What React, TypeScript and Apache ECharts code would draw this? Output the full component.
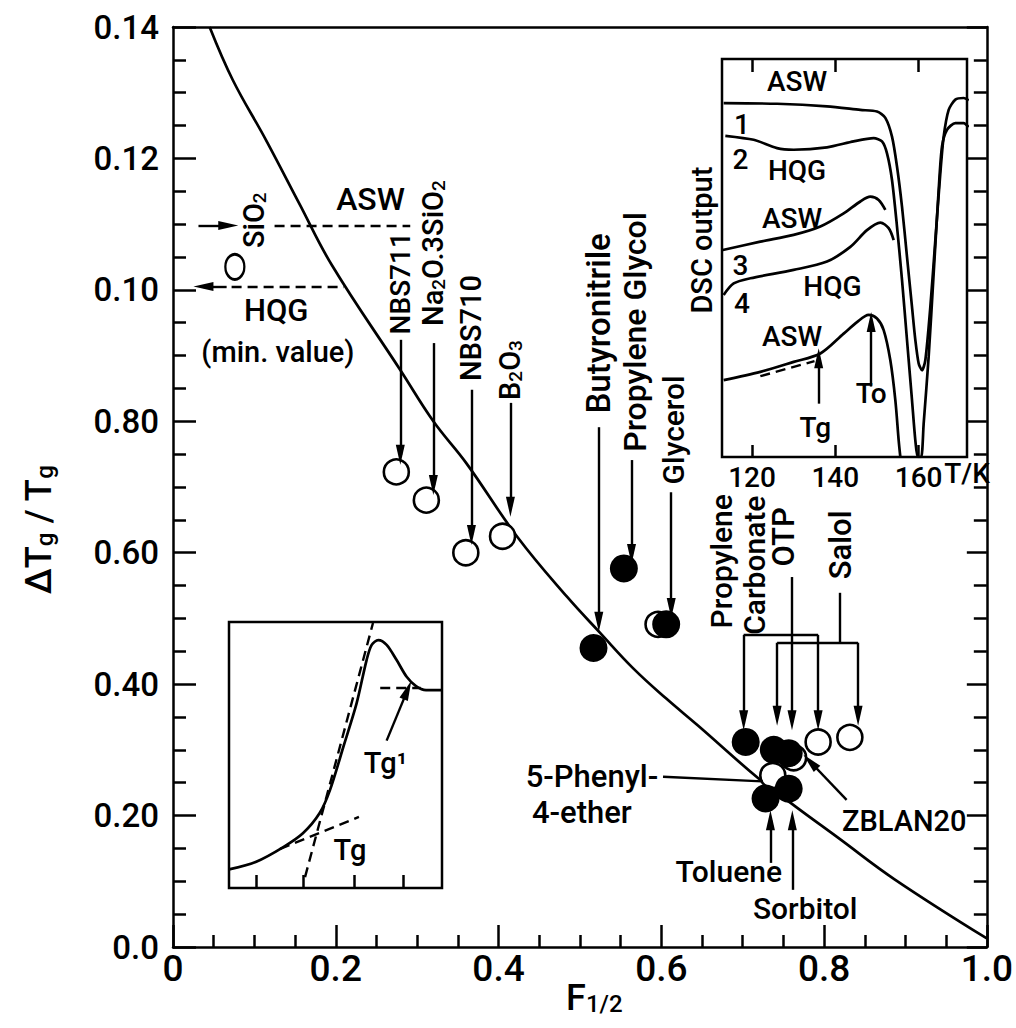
import React, { useEffect, useRef } from "react";
import * as echarts from "echarts";

const FONT = "Roboto, 'DejaVu Sans', sans-serif";
const WEIGHT = 500;

// ---- main axes tick labels (as printed in the original figure) ----
const xTickText = ["0", "0.2", "0.4", "0.6", "0.8", "1.0"];
const yTickText = ["0.0", "0.20", "0.40", "0.60", "0.80", "0.10", "0.12", "0.14"];

// ---- main curve  (F1/2, ΔTg/Tg) ----
const mainCurve: number[][] = [
  [0.045, 0.14], [0.0736, 0.1319], [0.1143, 0.1228], [0.1549, 0.1132], [0.1955, 0.1037],
  [0.2793, 0.0878], [0.3199, 0.08], [0.3606, 0.0736], [0.4232, 0.0624], [0.4841, 0.0533],
  [0.5248, 0.0478], [0.5655, 0.0424], [0.6061, 0.0378], [0.645, 0.0337], [0.7199, 0.0256],
  [0.7646, 0.0214], [0.8175, 0.0166], [0.8866, 0.0103], [1.0, 0.0013],
];

// open symbols
const openPoints: number[][] = [
  [0.2744, 0.0723], // NBS711
  [0.3113, 0.068], // Na2O.3SiO2
  [0.3598, 0.06], // NBS710
  [0.4049, 0.0625], // B2O3
  [0.596, 0.0491], // Glycerol (open)
  [0.7927, 0.0312], // Propylene carbonate (open)
  [0.8317, 0.0319], // Salol (open)
  [0.7626, 0.0288], // ZBLAN20
  [0.737, 0.0261], // 5-Phenyl-4-ether
];
const sio2Point: number[][] = [[0.076, 0.1035]];

// filled symbols
const filledPoints: number[][] = [
  [0.554, 0.0576], // Propylene glycol
  [0.606, 0.0491], // Glycerol
  [0.5167, 0.0455], // Butyronitrile
  [0.7037, 0.0312], // Propylene carbonate
  [0.7382, 0.03], // Salol
  [0.7565, 0.0295], // OTP
  [0.7281, 0.0226], // Toluene
  [0.7565, 0.0241], // Sorbitol
];

// ---- DSC inset (T/K, relative output) ----
const dscTicks = [120, 140, 160];
const dscASW1: number[][] = [
  [113.2, 88.9], [126, 88.75], [138, 88.1], [146, 87.2], [150, 86.8], [152, 85.2], [153.6, 80.5],
  [154.8, 73], [156, 62.9], [157.2, 50.3], [158.4, 37.7], [159.2, 29.4], [160, 23.5], [160.8, 21.8],
  [161.6, 24.3], [162.8, 37.7], [164, 54.5], [165.2, 71.3], [166, 80.5], [167.2, 87.2], [168.8, 89.8],
  [170.8, 90.2], [172, 89.6],
];
const dscHQG2: number[][] = [
  [113.6, 80.7], [120.4, 79.7], [126, 77.6], [130, 77.2], [138, 77.8], [144.4, 79.3], [149.2, 80.1],
  [151.2, 79.3], [152.4, 76.3], [153.6, 69.6], [154.8, 57.9], [156, 44.5], [157.2, 29.4], [158.4, 14.3],
  [159.2, 4.2], [159.8, 0], [160.6, 0], [161.2, 8.4], [162.4, 25.2], [163.6, 46.1], [164.8, 67.1],
  [165.6, 78], [166.8, 82.2], [168.8, 83.9], [170.8, 83.9], [172, 82.9],
];
const dscASW3: number[][] = [
  [113, 52], [122, 54.1], [130, 55.8], [136.4, 57.9], [142, 61.2], [146, 64.2], [148.4, 65.4],
  [150.4, 64.6], [152, 62.1],
];
const dscHQG4: number[][] = [
  [113.2, 40.7], [115.6, 43.6], [119.6, 44.9], [130, 47], [138, 49.1], [143.6, 52.8], [147.6, 57],
  [150.8, 58.9], [152.8, 57.5], [154, 54.5],
];
const dscASW5: number[][] = [
  [113.2, 19.3], [122, 21.4], [130, 23.9], [136.4, 26], [142, 31], [145.2, 33.9], [148, 35.7],
  [150, 34.8], [151.6, 31.9], [153.2, 24.3], [154.4, 14.3], [155.2, 4.2], [155.6, 0],
];

// ---- lower-left schematic inset ----
const insetTicks = [13, 35, 59, 82];
const insetCurve: number[][] = [
  [0, 7], [12.8, 9.9], [25.3, 15.3], [34.7, 20.6], [42.5, 28.1], [47.4, 36.8], [53.7, 53.1],
  [59.9, 69.4], [64.6, 85.7], [67, 91.4], [70.1, 93.2], [74, 91.4], [78.7, 85.7], [83.4, 79.4],
  [87.8, 75.9], [92.5, 74.4], [100, 74.4],
];

// ---- annotation lines [x1, y1, x2, y2] in data units ----
const mainArrows: number[][] = [
  [0.0313, 0.1098, 0.0679, 0.1098],
  [0.0659, 0.1005, 0.0374, 0.1005],
  [0.2793, 0.0924, 0.2793, 0.0749],
  [0.3199, 0.0919, 0.3199, 0.0703],
  [0.3667, 0.0848, 0.3667, 0.0627],
  [0.4146, 0.0828, 0.4146, 0.067],
  [0.5232, 0.0791, 0.5232, 0.0495],
  [0.5634, 0.0741, 0.5634, 0.0598],
  [0.6122, 0.0692, 0.6122, 0.0516],
  [0.7012, 0.0475, 0.7012, 0.0345],
  [0.7927, 0.0475, 0.7927, 0.0345],
  [0.7423, 0.0463, 0.7423, 0.0352],
  [0.8418, 0.0463, 0.8418, 0.0352],
  [0.7606, 0.0563, 0.7606, 0.0345],
  [0.8277, 0.0224, 0.7829, 0.0282],
  [0.7341, 0.0128, 0.7341, 0.0193],
  [0.761, 0.0087, 0.761, 0.0193],
];
const mainPlain: number[][] = [
  [0.7012, 0.0475, 0.7927, 0.0475],
  [0.7423, 0.0463, 0.8418, 0.0463],
  [0.8195, 0.0539, 0.8195, 0.0463],
  [0.6021, 0.0259, 0.7241, 0.0252],
];
const mainDashed: number[][] = [
  [0.1248, 0.1097, 0.2915, 0.1097],
  [0.072, 0.1005, 0.2101, 0.1005],
];
const dscArrows: number[][] = [
  [136, 13.4, 136, 24.8],
  [148.6, 17.7, 148.6, 33.9],
];
const dscDashed: number[][] = [[122, 20.3, 135, 24.1]];
const insetArrows: number[][] = [[74, 55.4, 83.8, 74.4]];
const insetDashed: number[][] = [
  [24, 14.7, 61, 26.7],
  [35.7, 4.1, 67.6, 99.6],
  [71, 75.2, 90, 75.2],
];

// ---- texts: grid, text, x, y, size, rotated, align ----
type Lab = { g: number; t: string; x: number; y: number; s: number; r?: boolean; a?: string };
const labels: Lab[] = [
  { g: 0, t: "ASW", x: 0.2427, y: 0.1139, s: 32 },
  { g: 0, t: "HQG", x: 0.1268, y: 0.0969, s: 31 },
  { g: 0, t: "(min. value)", x: 0.1289, y: 0.0906, s: 29 },
  { g: 0, t: "SiO{s|2}", x: 0.0996, y: 0.1106, s: 29, r: true },
  { g: 0, t: "NBS711", x: 0.2793, y: 0.101, s: 28, r: true },
  { g: 0, t: "Na{s|2}O.3SiO{s|2}", x: 0.3199, y: 0.1056, s: 29, r: true },
  { g: 0, t: "NBS710", x: 0.3667, y: 0.0942, s: 29, r: true },
  { g: 0, t: "B{s|2}O{s|3}", x: 0.4146, y: 0.0878, s: 29, r: true },
  { g: 0, t: "Butyronitrile", x: 0.5228, y: 0.0949, s: 33, r: true },
  { g: 0, t: "Propylene Glycol", x: 0.5671, y: 0.0936, s: 32, r: true },
  { g: 0, t: "Glycerol", x: 0.6146, y: 0.0787, s: 30, r: true },
  { g: 0, t: "Propylene", x: 0.6744, y: 0.0587, s: 30, r: true },
  { g: 0, t: "Carbonate", x: 0.7146, y: 0.0581, s: 30, r: true },
  { g: 0, t: "OTP", x: 0.75, y: 0.0624, s: 31, r: true },
  { g: 0, t: "Salol", x: 0.8207, y: 0.0612, s: 31, r: true },
  { g: 0, t: "5-Phenyl-", x: 0.5963, y: 0.0259, s: 31, a: "right" },
  { g: 0, t: "4-ether", x: 0.5024, y: 0.0205, s: 31 },
  { g: 0, t: "ZBLAN20", x: 0.822, y: 0.0191, s: 29, a: "left" },
  { g: 0, t: "Toluene", x: 0.6829, y: 0.0115, s: 30 },
  { g: 0, t: "Sorbitol", x: 0.7768, y: 0.0059, s: 30 },
  { g: 0, t: "ΔT{s|g} / T{s|g}", x: -0.1646, y: 0.0635, s: 36, r: true },
  { g: 0, t: "F{s|1/2}", x: 0.483, y: -0.0078, s: 36, a: "left" },
  { g: 1, t: "ASW", x: 130.8, y: 94.4, s: 28 },
  { g: 1, t: "1", x: 117.6, y: 83.5, s: 28 },
  { g: 1, t: "2", x: 117.2, y: 74.7, s: 28 },
  { g: 1, t: "HQG", x: 130.8, y: 72.1, s: 28 },
  { g: 1, t: "ASW", x: 129.6, y: 60.0, s: 28 },
  { g: 1, t: "3", x: 117.2, y: 48.2, s: 28 },
  { g: 1, t: "HQG", x: 139.3, y: 42.8, s: 28 },
  { g: 1, t: "4", x: 117.6, y: 38.6, s: 28 },
  { g: 1, t: "ASW", x: 129.6, y: 30.2, s: 28 },
  { g: 1, t: "Tg", x: 135.2, y: 7.5, s: 28 },
  { g: 1, t: "To", x: 148.6, y: 16, s: 28 },
  { g: 1, t: "T/K", x: 171.6, y: -4.1, s: 28 },
  { g: 1, t: "DSC output", x: 108.1, y: 54.5, s: 29, r: true },
  { g: 2, t: "Tg", x: 56.8, y: 14.3, s: 29 },
  { g: 2, t: "Tg¹", x: 73.5, y: 47, s: 29 },
];

function seg(l: number[], kind: "arrow" | "plain" | "dash") {
  const ls = { color: "#000", width: 2.4, type: kind === "dash" ? [10, 6] : "solid", opacity: 1 };
  return [
    { coord: [l[0], l[1]], symbol: "none", lineStyle: ls },
    {
      coord: [l[2], l[3]],
      symbol: kind === "arrow" ? "triangle" : "none",
      symbolSize: [9, 20],
      lineStyle: ls,
      itemStyle: { color: "#000", opacity: 1 },
    },
  ];
}

function markLineOf(arrows: number[][], plain: number[][], dashed: number[][]) {
  return {
    silent: true,
    animation: false,
    symbol: ["none", "none"],
    label: { show: false },
    emphasis: { disabled: true },
    lineStyle: { color: "#000", width: 2.4, type: "solid", opacity: 1 },
    itemStyle: { color: "#000", opacity: 1 },
    data: [
      ...arrows.map((l) => seg(l, "arrow")),
      ...plain.map((l) => seg(l, "plain")),
      ...dashed.map((l) => seg(l, "dash")),
    ],
  };
}

const axisBlack = { color: "#000", width: 2.5 };

function buildOption(): any {
  const line = (data: number[][], xi: number, yi: number, extra: any = {}) => ({
    type: "line",
    data,
    xAxisIndex: xi,
    yAxisIndex: yi,
    smooth: 0.3,
    showSymbol: false,
    symbol: "none",
    lineStyle: { color: "#000", width: 2.7, opacity: 1 },
    itemStyle: { color: "#000" },
    silent: true,
    z: 2,
    ...extra,
  });
  const tickFont = { color: "#000", fontFamily: FONT, fontWeight: WEIGHT };
  return {
    animation: false,
    backgroundColor: "#fff",
    grid: [
      { left: 173, top: 27, width: 820, height: 920, show: false },
      { left: 722, top: 59, width: 245, height: 398, show: true, borderColor: "#000", borderWidth: 2.5, backgroundColor: "transparent" },
      { left: 229, top: 622, width: 213, height: 266, show: true, borderColor: "#000", borderWidth: 2.5, backgroundColor: "transparent" },
    ],
    xAxis: [
      {
        type: "value", gridIndex: 0, min: 0, max: 1, interval: 0.2, position: "bottom",
        axisLine: { show: true, onZero: false, lineStyle: axisBlack },
        axisTick: { show: true, inside: true, length: 22, lineStyle: axisBlack },
        minorTick: { show: true, splitNumber: 4, length: 12, lineStyle: axisBlack },
        splitLine: { show: false },
        axisLabel: {
          formatter: (v: number) => xTickText[Math.round(v / 0.2)],
          fontSize: 37, margin: 3, ...tickFont,
        },
      },
      {
        type: "value", gridIndex: 0, min: 0, max: 1, position: "top",
        axisLine: { show: true, onZero: false, lineStyle: axisBlack },
        axisTick: { show: false }, axisLabel: { show: false }, splitLine: { show: false },
      },
      {
        type: "value", gridIndex: 1, min: 112.8, max: 171.6, position: "bottom",
        axisLine: { show: false },
        axisTick: { show: true, inside: true, length: 12, customValues: dscTicks, lineStyle: axisBlack },
        axisLabel: { show: true, customValues: dscTicks, fontSize: 28, margin: 6, ...tickFont },
        splitLine: { show: false },
      },
      {
        type: "value", gridIndex: 1, min: 112.8, max: 171.6, position: "top",
        axisLine: { show: false },
        axisTick: { show: true, inside: true, length: 13, customValues: dscTicks, lineStyle: axisBlack },
        axisLabel: { show: false }, splitLine: { show: false },
      },
      {
        type: "value", gridIndex: 2, min: 0, max: 100, position: "bottom",
        axisLine: { show: false },
        axisTick: { show: true, inside: true, length: 13, customValues: insetTicks, lineStyle: axisBlack },
        axisLabel: { show: false }, splitLine: { show: false },
      },
    ],
    yAxis: [
      {
        type: "value", gridIndex: 0, min: 0, max: 0.14, interval: 0.02, position: "left",
        axisLine: { show: true, onZero: false, lineStyle: axisBlack },
        axisTick: { show: true, inside: true, length: 23, lineStyle: axisBlack },
        minorTick: { show: true, splitNumber: 4, length: 13, lineStyle: axisBlack },
        splitLine: { show: false },
        axisLabel: {
          formatter: (v: number) => yTickText[Math.round(v / 0.02)],
          fontSize: 33, margin: 14, ...tickFont,
        },
      },
      {
        type: "value", gridIndex: 0, min: 0, max: 0.14, interval: 0.02, position: "right",
        axisLine: { show: true, onZero: false, lineStyle: axisBlack },
        axisTick: { show: true, inside: true, length: 20, lineStyle: axisBlack },
        minorTick: { show: true, splitNumber: 4, length: 13, lineStyle: axisBlack },
        splitLine: { show: false }, axisLabel: { show: false },
      },
      { type: "value", gridIndex: 1, min: 0, max: 100, show: false },
      { type: "value", gridIndex: 2, min: 0, max: 100, show: false },
    ],
    series: [
      line(mainCurve, 0, 0, { smooth: 0.4, markLine: markLineOf(mainArrows, mainPlain, mainDashed) }),
      {
        type: "scatter", data: openPoints, xAxisIndex: 0, yAxisIndex: 0, symbol: "circle", symbolSize: 25,
        itemStyle: { color: "#fff", borderColor: "#000", borderWidth: 2.6, opacity: 1 }, silent: true, z: 3,
      },
      {
        type: "scatter", data: sio2Point, xAxisIndex: 0, yAxisIndex: 0, symbol: "circle", symbolSize: [19, 25],
        itemStyle: { color: "#fff", borderColor: "#000", borderWidth: 2.6, opacity: 1 }, silent: true, z: 3,
      },
      {
        type: "scatter", data: filledPoints, xAxisIndex: 0, yAxisIndex: 0, symbol: "circle", symbolSize: 28,
        itemStyle: { color: "#000", opacity: 1 }, silent: true, z: 4,
      },
      line(dscASW1, 2, 2, { smooth: 0.25, markLine: markLineOf(dscArrows, [], dscDashed) }),
      line(dscHQG2, 2, 2, { smooth: 0.25 }),
      line(dscASW3, 2, 2),
      line(dscHQG4, 2, 2),
      line(dscASW5, 2, 2),
      line(insetCurve, 4, 3, { markLine: markLineOf(insetArrows, [], insetDashed) }),
    ],
  };
}

function richFor(size: number) {
  const s = Math.round(size * 0.66);
  return {
    s: {
      fontSize: s, fontFamily: FONT, fontWeight: WEIGHT, fill: "#000",
      verticalAlign: "bottom", lineHeight: s, padding: [Math.round(size * 0.3), 0, 0, 0],
    },
  };
}

export default function App() {
  const ref = useRef<HTMLDivElement>(null);
  useEffect(() => {
    const el = ref.current;
    if (!el) return;
    const chart = echarts.init(el, null, { renderer: "svg" });
    chart.setOption(buildOption());
    const graphics = labels.map((l) => {
      const p = chart.convertToPixel({ gridIndex: l.g } as any, [l.x, l.y]) as number[];
      return {
        type: "text",
        x: p[0],
        y: p[1],
        rotation: l.r ? Math.PI / 2 : 0,
        z: 20,
        silent: true,
        style: {
          text: l.t,
          fill: "#000",
          fontSize: l.s,
          fontFamily: FONT,
          fontWeight: WEIGHT,
          align: l.a || "center",
          verticalAlign: "middle",
          rich: richFor(l.s),
        },
      };
    });
    chart.setOption({ graphic: graphics });
    return () => chart.dispose();
  }, []);
  return (
    <div
      ref={ref}
      style={{ position: "fixed", left: 0, top: 0, width: 1016, height: 1028, background: "#fff" }}
    />
  );
}
